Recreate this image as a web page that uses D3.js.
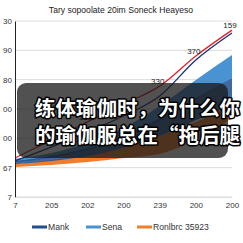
<!DOCTYPE html>
<html>
<head>
<meta charset="utf-8">
<script src="https://cdn.jsdelivr.net/npm/d3@7"></script>
<style>
  html, body { margin: 0; padding: 0; background: #fff; }
  svg { display: block; font-family: "Liberation Sans", Arial, sans-serif; }
</style>
</head>
<body>
<svg id="chart" width="243" height="243"></svg>
<script>
(function () {
  'use strict';

  // data
  var title = 'Tary sopoolate 20im Soneck Heayeso';
  var xLabels = ['7', '205', '202', '200', '239', '200', '200'];
  var yTicks = [0, 100, 200, 300, 400, 500, 600];
  var yLabels = ['7', '67', '00', '00', '80', '90', '30'];

  var senaUpper = [130, 150, 184, 235, 310, 399, 484];
  var senaLower = [119, 133, 160, 198, 256, 331, 406];
  var mankUpper = [123, 140, 167, 208, 269, 338, 406];
  var mankLower = [112, 123, 140, 167, 208, 262, 314];
  var ronUpper = [112, 126, 143, 167, 208, 256, 314];
  var ronLower = [102, 109, 119, 133, 147, 194, 269];

  var redLine = [133, 194, 256, 317, 378, 481, 569];
  var navyLine = [123, 170, 222, 276, 344, 467, 559];

  var pointLabelIdx = [2, 4, 5, 6];
  var pointLabels = ['100', '330', '370', '159'];

  var legendNames = ['Mank', 'Sena', 'Ronlbrc 35923'];
  var legendColors = ['#1f4f8f', '#4a93d3', '#f07c2c'];

  var overlayLines = ['练体瑜伽时，为什么你', '的瑜伽服总在“拖后腿'];

  var margin = {top: 21, right: 11, bottom: 46, left: 15};
  var width = 243 - margin.left - margin.right;
  var height = 243 - margin.top - margin.bottom;

  var svg = d3.select('#chart');

  var x = d3.scaleLinear()
    .domain([0, xLabels.length - 1])
    .range([0, width]);
  var y = d3.scaleLinear()
    .domain([0, 600])
    .range([height, 0]);

  svg.append('text')
    .attr('x', 121)
    .attr('y', 13)
    .attr('text-anchor', 'middle')
    .style('font-size', '8.6px')
    .style('fill', '#222')
    .text(title);

  var g = svg.append('g')
    .attr('transform', 'translate(' + margin.left + ',' + margin.top + ')');

  // grid
  g.append('g')
    .selectAll('line')
    .data(yTicks)
    .enter()
    .append('line')
    .attr('x1', 0)
    .attr('x2', width)
    .attr('y1', function (d) { return y(d); })
    .attr('y2', function (d) { return y(d); })
    .style('stroke', '#dcdcdc')
    .style('stroke-width', 1);

  function band(lower, upper) {
    return d3.area()
      .x(function (d, i) { return x(i); })
      .y0(function (d, i) { return y(lower[i]); })
      .y1(function (d, i) { return y(upper[i]); })
      .curve(d3.curveMonotoneX)(xLabels);
  }

  g.append('path')
    .attr('d', band(ronLower, ronUpper))
    .style('fill', legendColors[2]);
  g.append('path')
    .attr('d', band(senaLower, senaUpper))
    .style('fill', legendColors[1]);
  g.append('path')
    .attr('d', band(mankLower, mankUpper))
    .style('fill', legendColors[0])
    .style('opacity', 0.85);

  var line = d3.line()
    .x(function (d, i) { return x(i); })
    .y(function (d) { return y(d); })
    .curve(d3.curveMonotoneX);

  g.append('path')
    .datum(navyLine)
    .attr('d', line)
    .style('fill', 'none')
    .style('stroke', '#1b2f78')
    .style('stroke-width', 1.3);
  g.append('path')
    .datum(redLine)
    .attr('d', line)
    .style('fill', 'none')
    .style('stroke', '#e3202a')
    .style('stroke-width', 1.3);

  g.selectAll('.point-label')
    .data(pointLabelIdx)
    .enter()
    .append('text')
    .attr('class', 'point-label')
    .attr('x', function (d) { return x(d) - 2; })
    .attr('y', function (d) { return y(redLine[d]) - 2; })
    .attr('text-anchor', 'middle')
    .style('font-size', '8px')
    .style('fill', '#222')
    .text(function (d, i) { return pointLabels[i]; });

  // axes
  var yAxis = g.append('g')
    .call(d3.axisLeft(y)
      .tickValues(yTicks)
      .tickSize(0)
      .tickPadding(3)
      .tickFormat(function (d, i) { return yLabels[i]; }));
  yAxis.select('.domain').style('stroke', '#222');
  yAxis.selectAll('text')
    .style('font-size', '8px')
    .style('fill', '#333')
    .style('font-family', '"Liberation Sans", Arial, sans-serif');

  var xAxis = g.append('g')
    .attr('transform', 'translate(0,' + height + ')')
    .call(d3.axisBottom(x)
      .ticks(xLabels.length)
      .tickValues(d3.range(xLabels.length))
      .tickSize(0)
      .tickPadding(5)
      .tickFormat(function (d) { return xLabels[d]; }));
  xAxis.select('.domain').style('stroke', '#dcdcdc');
  xAxis.selectAll('text')
    .style('font-size', '8px')
    .style('fill', '#333')
    .style('font-family', '"Liberation Sans", Arial, sans-serif');

  // legend
  var legendX = [32, 86, 137];
  var legend = svg.append('g')
    .selectAll('g')
    .data(legendNames)
    .enter()
    .append('g')
    .attr('transform', function (d, i) { return 'translate(' + legendX[i] + ',227)'; });
  legend.append('line')
    .attr('x1', 0)
    .attr('x2', 15)
    .style('stroke', function (d, i) { return legendColors[i]; })
    .style('stroke-width', 3);
  legend.append('text')
    .attr('x', 16)
    .attr('y', 3)
    .style('font-size', '8.6px')
    .style('fill', '#333')
    .text(function (d) { return d; });

  // overlay caption box
  svg.append('rect')
    .attr('x', 17)
    .attr('y', 83)
    .attr('width', 211)
    .attr('height', 75)
    .attr('rx', 9)
    .style('fill', '#1a1a1a')
    .style('opacity', 0.76);

  svg.append('g')
    .selectAll('text')
    .data(overlayLines)
    .enter()
    .append('text')
    .attr('x', 35)
    .attr('y', function (d, i) { return 116 + i * 27; })
    .style('font-family', '"Noto Sans CJK SC", sans-serif')
    .style('font-weight', 'bold')
    .style('font-size', '20.5px')
    .style('fill', '#fff')
    .style('stroke', '#000')
    .style('stroke-width', 3)
    .style('paint-order', 'stroke')
    .style('stroke-linejoin', 'round')
    .text(function (d) { return d; });
}());
</script>
</body>
</html>
